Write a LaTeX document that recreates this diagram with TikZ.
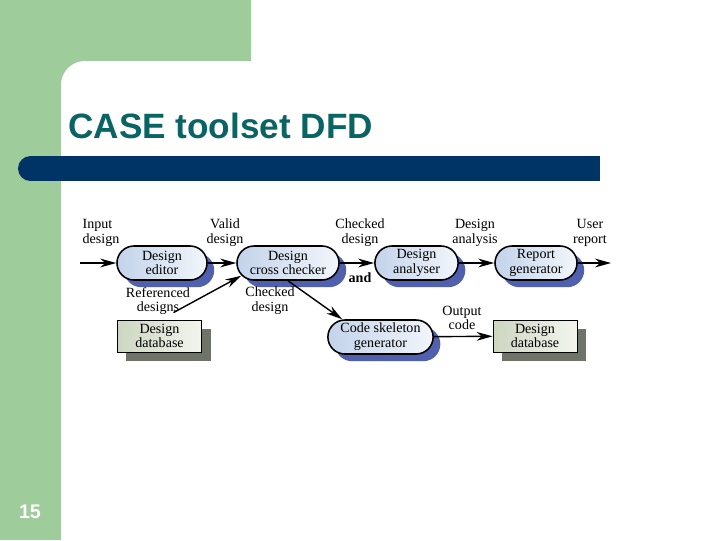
\documentclass[tikz,border=0pt]{standalone}
\usepackage{fontspec}
\setmainfont{Liberation Serif}
\newfontfamily\slidefont{Liberation Sans}
\usepackage{tikz}
\usetikzlibrary{arrows.meta,positioning,shadows,calc}
\definecolor{SlideGreen}{HTML}{9ECC9A}
\definecolor{BarBlue}{HTML}{003366}
\definecolor{TitleTeal}{HTML}{0A6464}
\definecolor{PillBlue}{HTML}{C3D3EA}
\definecolor{PillLight}{HTML}{F2F6FB}
\definecolor{PillShade}{HTML}{5060AE}
\definecolor{StoreGreen}{HTML}{CCD6C0}
\definecolor{StoreLight}{HTML}{F3F5EE}
\definecolor{StoreShade}{HTML}{6E7568}

\begin{document}
\begin{tikzpicture}[x=0.025cm,y=-0.025cm,>={Stealth[length=0.4cm,width=0.22cm]}, font=\fontsize{10}{10.5}\selectfont]
  \tikzset{process/.style={draw,line width=1.1pt,rounded corners=0.425cm,minimum height=0.85cm,inner sep=1pt,align=center,left color=PillBlue,right color=PillLight,drop shadow={shadow xshift=0.18cm,shadow yshift=-0.18cm,fill=PillShade,opacity=1}},
           store/.style={draw,line width=0.6pt,minimum height=0.8cm,inner sep=1pt,align=center,left color=StoreGreen,right color=StoreLight,drop shadow={shadow xshift=0.22cm,shadow yshift=-0.22cm,fill=StoreShade,opacity=1}},
           flow/.style={->,line width=1pt},
           lbl/.style={align=center,inner sep=1pt}}
  \useasboundingbox (0,0) rectangle (720,540);
  \fill[white] (0,0) rectangle (720,540);
  \fill[SlideGreen] (0,0) rectangle (251,61);
  \fill[SlideGreen] (0,0) rectangle (61,540);
  \fill[SlideGreen] (61,61) rectangle (90,90);
  \fill[white] (61,540) [rounded corners=0.6cm] -- (61,61) -- (720,61) [sharp corners] -- (720,540) -- cycle;
  \fill[BarBlue] (30.5,156) rectangle (600,181);
  \fill[BarBlue] (30.5,168.5) circle[radius=0.3125cm];
  \node[anchor=base west,inner sep=0,text=TitleTeal,font=\slidefont\bfseries\fontsize{25}{30}\selectfont] (title) at (68,138) {CASE toolset DFD};
  \node[text=white,font=\slidefont\bfseries\fontsize{14}{16}\selectfont] (pagenum) at (30,512) {15};

  \node[process,minimum width=2.25cm] (editor) at (162,263) {Design\\editor};
  \node[process,minimum width=2.55cm] (checker) at (288,263) {Design\\cross checker};
  \node[process,minimum width=2.08cm] (analyser) at (416.5,263) {Design\\analyser};
  \node[process,minimum width=2.05cm] (report) at (536,263) {Report\\generator};
  \node[process,minimum width=2.63cm] (skeleton) at (380.5,337) {Code skeleton\\generator};
  \node[store,minimum width=2.12cm] (refdb) at (159.5,336) {Design\\database};
  \node[store,minimum width=2.1cm] (outdb) at (535,336) {Design\\database};
  \coordinate (in) at (80,263);
  \coordinate (out) at (611,263);

  \draw[flow] (in) -- (editor);
  \foreach \a/\b in {editor/checker,checker/analyser,analyser/report}{\draw[flow] (\a) -- (\b);}
  \draw[flow] (report) -- (out);
  \draw[flow] ($(refdb.north)+(14,-7)$) -- ($(checker.south west)+(5,-5)$);
  \draw[flow] (checker.south) -- ($(skeleton.north west)+(15,0)$);
  \draw[flow] (skeleton) -- (outdb);

  \node[lbl,align=left,anchor=west] (inlbl) at (81,233) {Input\\design};
  \node[lbl] (validlbl) at (225,233) {Valid\\design};
  \node[lbl] (checkedlbl) at (360,233) {Checked\\design};
  \node[lbl] (analysislbl) at (475,233) {Design\\analysis};
  \node[lbl] (userlbl) at (590,233) {User\\report};
  \node[lbl,font=\fontsize{10}{10.5}\selectfont\bfseries] (andlbl) at (360,278) {and};
  \node[lbl] (reflbl) at (158,301) {Referenced\\designs};
  \node[lbl] (checked2lbl) at (270,301) {Checked\\design};
  \node[lbl] (outlbl) at (462,318) {Output\\code};
\end{tikzpicture}
\end{document}
